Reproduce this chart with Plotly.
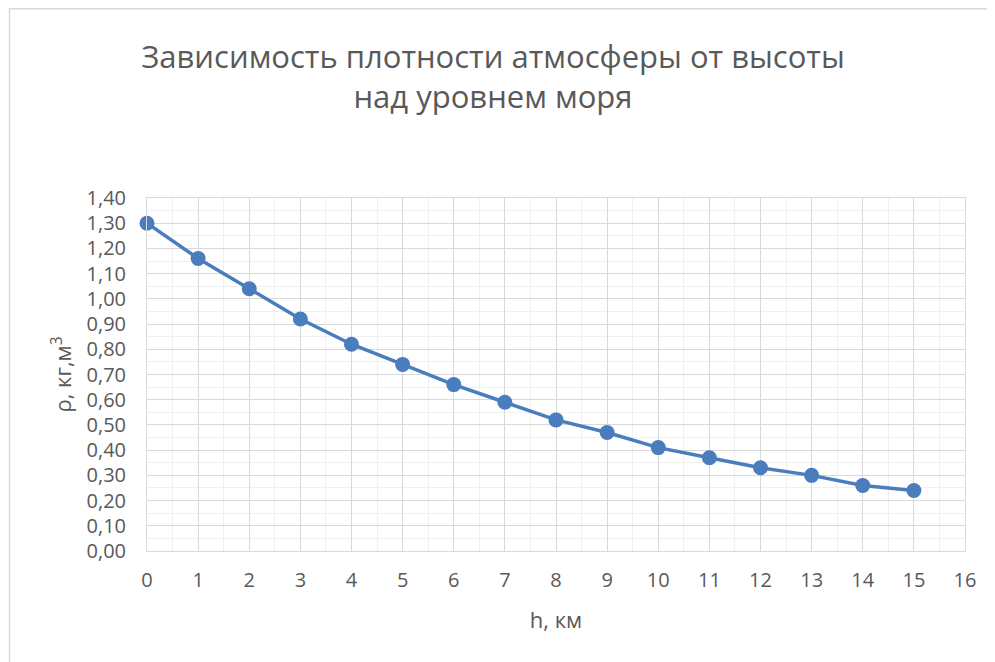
import plotly.graph_objects as go

h_km = [0, 1, 2, 3, 4, 5, 6, 7, 8, 9, 10, 11, 12, 13, 14, 15]
rho = [1.30, 1.16, 1.04, 0.92, 0.82, 0.74, 0.66, 0.59, 0.52, 0.47, 0.41, 0.37, 0.33, 0.30, 0.26, 0.24]

title_text = "Зависимость плотности атмосферы от высоты<br>над уровнем моря"
x_title = "h, км"
y_title = "ρ, кг,м<sup>3</sup>"

FONT = "Open Sans"
TXT = "#595959"
color = "#4a7dbd"

# page body has an 8px margin, so the figure sits 8px right and down
L, T = 139, 190
PW, PH = 818, 353

fig = go.Figure()
fig.add_trace(go.Scatter(
    x=h_km, y=rho, mode="lines+markers",
    line=dict(color=color, width=3.5),
    marker=dict(color=color, size=15),
    showlegend=False, cliponaxis=False,
))

fig.update_layout(
    width=995, height=662,
    margin=dict(l=L, r=995 - L - PW, t=T, b=662 - T - PH, autoexpand=False),
    paper_bgcolor="white", plot_bgcolor="white",
    title=dict(text=title_text, x=485 / 995, xanchor="center", y=0.910, yanchor="middle",
               font=dict(family=FONT, size=31, color=TXT)),
    font=dict(family=FONT, color=TXT),
    separators=", ",
)
fig.update_xaxes(
    range=[0, 16], tick0=0, dtick=1, showgrid=True, gridcolor="#d9d9d9", gridwidth=1,
    minor=dict(dtick=0.5, showgrid=True, gridcolor="#f0f0f0", gridwidth=1),
    zeroline=False, showline=True, linecolor="#d9d9d9", linewidth=1, mirror=True,
    ticks="", tickfont=dict(size=20, color=TXT), ticklabelstandoff=11,
    automargin=False,
    title=dict(text=x_title, font=dict(size=22, color=TXT), standoff=20),
)
fig.update_yaxes(
    range=[0, 1.4], tick0=0, dtick=0.1, showgrid=True, gridcolor="#d9d9d9", gridwidth=1,
    minor=dict(dtick=0.05, showgrid=True, gridcolor="#f0f0f0", gridwidth=1),
    zeroline=False, showline=True, linecolor="#d9d9d9", linewidth=1, mirror=True,
    ticks="", tickformat=".2f",
    tickfont=dict(size=20, color=TXT), ticklabelstandoff=16,
    automargin=False,
    title=dict(text=y_title, font=dict(size=22, color=TXT), standoff=8),
)
fig.add_shape(type="rect", xref="paper", yref="paper",
              x0=(1.5 - L) / PW, x1=1.2, y0=-0.5, y1=1 + (T - 0.75) / PH,
              line=dict(color="#d9d9d9", width=1.5), layer="below")
fig.write_html("out.html")
